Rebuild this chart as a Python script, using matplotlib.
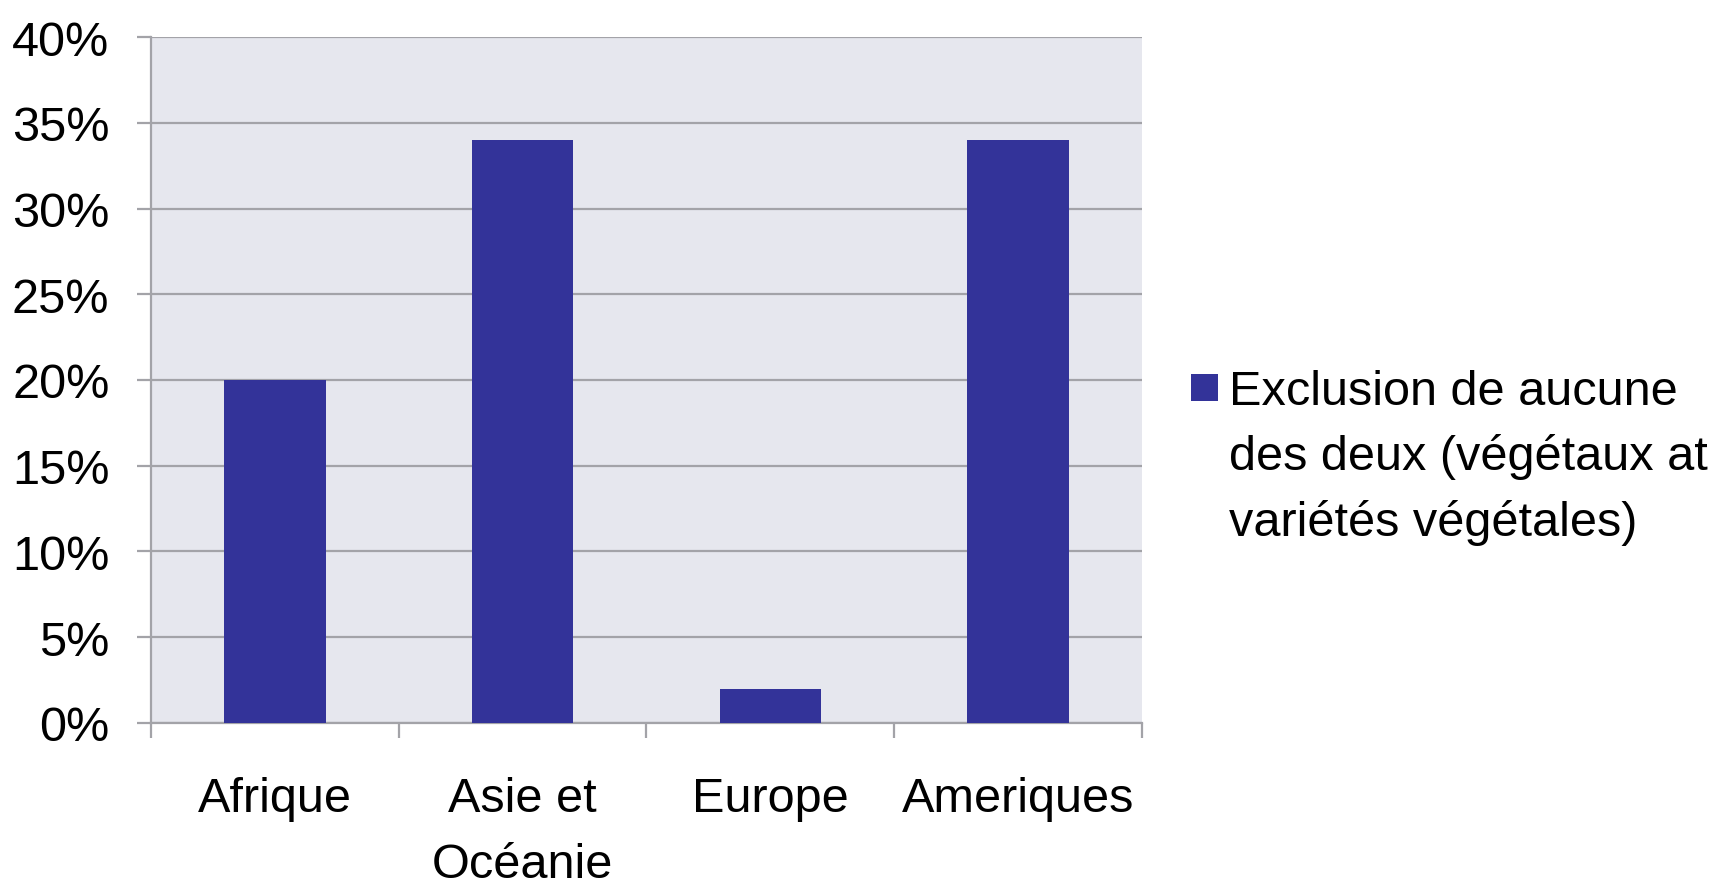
import matplotlib
matplotlib.use("Agg")
import matplotlib.pyplot as plt
from matplotlib.patches import Rectangle
from matplotlib.legend_handler import HandlerPatch
from matplotlib.ticker import FixedLocator, PercentFormatter

regions = ["Afrique", "Asie et\nOcéanie", "Europe", "Ameriques"]
shares = [20, 34, 2, 34]
series_label = "Exclusion de aucune\ndes deux (végétaux at\nvariétés végétales)"
y_ticks = [0, 5, 10, 15, 20, 25, 30, 35, 40]

BAR = "#333399"
GRID = "#a3a3a8"
FS = 35
LEG_SPACING = 1.54
HANDLE_UP = 1.41  # one legend line step, in font sizes

plt.rcParams["font.family"] = ["Liberation Sans", "DejaVu Sans"]


class TopSquare(HandlerPatch):
    # put the legend square next to the first line of a multi-line label
    def create_artists(self, legend, orig_handle, xdescent, ydescent,
                       width, height, fontsize, trans):
        size = 0.56 * fontsize
        y = HANDLE_UP * fontsize + 0.1 * fontsize
        p = Rectangle((-xdescent + width - size, y), size, size,
                      facecolor=orig_handle.get_facecolor(), edgecolor="none",
                      transform=trans)
        return [p]


fig = plt.figure(figsize=(17.17, 8.87), dpi=100)
ax = fig.add_axes([0.088, 0.184, 0.577, 0.773])
ax.set_facecolor("#e6e7ee")

x = range(len(regions))
bars = ax.bar(x, shares, width=0.41, color=BAR, zorder=3, label=series_label)

ax.set_ylim(0, 40)
ax.set_xlim(-0.5, len(regions) - 0.5)
ax.set_yticks(y_ticks)
ax.yaxis.set_major_formatter(PercentFormatter(decimals=0))
ax.grid(axis="y", color=GRID, linewidth=1.6, zorder=0)
ax.tick_params(axis="y", length=10, width=1.6, color=GRID, pad=20, labelsize=FS)

ax.set_xticks(list(x))
ax.set_xticklabels(regions, fontsize=FS, linespacing=1.62)
ax.tick_params(axis="x", which="major", length=0, pad=38)
ax.xaxis.set_minor_locator(FixedLocator([i - 0.5 for i in range(len(regions) + 1)]))
ax.tick_params(axis="x", which="minor", length=11, width=1.6, color=GRID)

for side in ("top", "right"):
    ax.spines[side].set_visible(False)
for side in ("left", "bottom"):
    ax.spines[side].set_color(GRID)
    ax.spines[side].set_linewidth(1.6)

leg = fig.legend(handles=[bars.patches[0]], labels=[series_label],
                 handler_map={Rectangle: TopSquare()},
                 loc="upper left", bbox_to_anchor=(0.691, 0.583),
                 frameon=False, fontsize=FS, handlelength=0.65,
                 handletextpad=0.22, borderpad=0, borderaxespad=0)
for t in leg.get_texts():
    t.set_linespacing(LEG_SPACING)

fig.savefig("out.png", dpi=100)
